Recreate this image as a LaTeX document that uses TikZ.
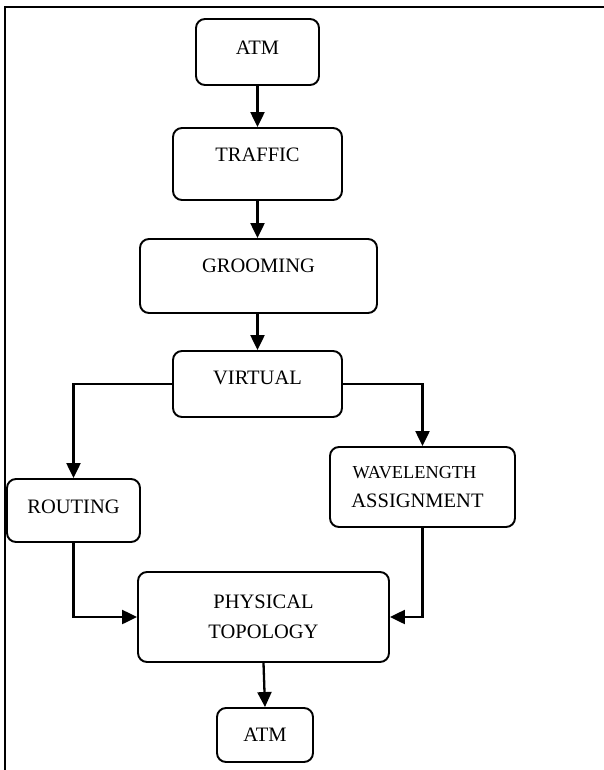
\documentclass[tikz,border=0pt]{standalone}
\usepackage{fontspec}
\setmainfont{Liberation Serif}
\usetikzlibrary{arrows.meta}
\begin{document}
\begin{tikzpicture}[x=1pt,y=-1pt,
  box/.style={draw, line width=1.9pt, rounded corners=9pt, inner sep=0pt,
    font=\fontsize{20.5}{29}\selectfont},
  up/.style={text height=13.6pt, text depth=#1},
  arr/.style={line width=2.3pt, -{Triangle[length=15pt,width=14pt]}},
  frame/.style={line width=2.6pt}]
\useasboundingbox (0,0) rectangle (604,770);
\draw[frame] (5,770) -- (5,7) -- (604,7);

\node[box, up=8pt,  minimum width=123pt, minimum height=66pt] (atm1)    at (257.5,52)  {ATM};
\node[box, up=18pt, minimum width=169pt, minimum height=72pt] (traffic) at (257.5,164) {TRAFFIC};
\node[box, up=20pt, minimum width=237pt, minimum height=74pt] (groom)   at (258.5,276) {GROOMING};
\node[box, up=12pt, minimum width=169pt, minimum height=66pt] (virt)    at (257.5,384) {VIRTUAL};
\node[box, up=7pt,  minimum width=133pt, minimum height=63pt] (rout)    at (73.5,510.5) {ROUTING};
\node[box, align=center, minimum width=185pt, minimum height=80pt] (wave) at (422.5,487)
  {{\fontsize{18.3}{29}\selectfont WAVELENGTH\hspace*{16pt}}\\ASSIGNMENT\hspace*{10pt}};
\node[box, align=center, font=\fontsize{20.5}{30}\selectfont, minimum width=251pt, minimum height=90pt] (phys) at (263.5,617)
  {PHYSICAL\\TOPOLOGY};
\node[box, up=0pt, minimum width=96pt, minimum height=54pt] (atm2) at (265,735) {ATM};

\draw[arr] (atm1.south) -- (traffic.north);
\draw[arr] (traffic.south) -- (traffic.south |- groom.north);
\draw[arr] (groom.south -| virt.north) -- (virt.north);
\draw[arr] (virt.west) -| (rout.north);
\draw[arr] (virt.east) -| (wave.north);
\draw[arr] (rout.south) |- (phys.west);
\draw[arr] (wave.south) |- (phys.east);
\draw[arr] (phys.south) -- (atm2.north);
\end{tikzpicture}
\end{document}
